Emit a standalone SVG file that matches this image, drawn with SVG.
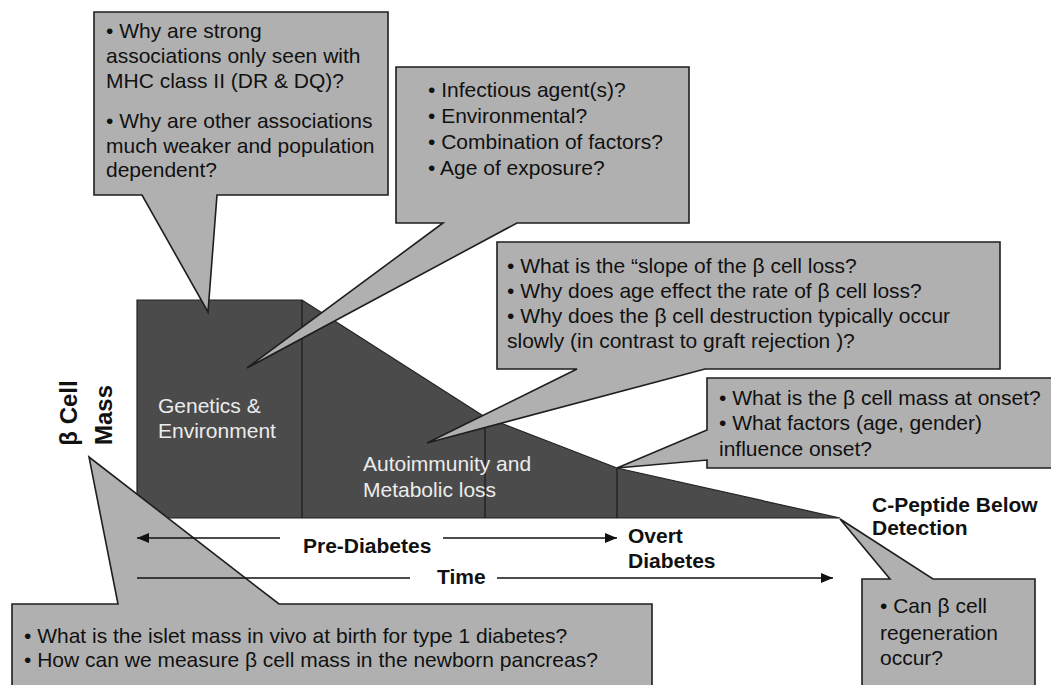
<svg xmlns="http://www.w3.org/2000/svg" width="1051" height="685" viewBox="0 0 1051 685">
<style>
.callout{fill:#b0b0b0;stroke:#1e1e1e;stroke-width:1.6;stroke-linejoin:miter}
.q{font-family:"Liberation Sans",Arial,sans-serif;font-size:21px;fill:#111}
.lbl{font-family:"Liberation Sans",Arial,sans-serif;font-size:21px;fill:#ececec}
.b{font-family:"Liberation Sans",Arial,sans-serif;font-size:21px;font-weight:bold;fill:#111}
.ax{font-family:"Liberation Sans",Arial,sans-serif;font-size:24px;font-weight:bold;fill:#111}
.ln{stroke:#111;stroke-width:1.6;fill:none}
.div{stroke:#1a1a1a;stroke-width:1.2}
</style>
<defs>
<marker id="ah" viewBox="0 0 12 10" refX="12" refY="5" markerWidth="12" markerHeight="10" markerUnits="userSpaceOnUse" orient="auto-start-reverse">
<path d="M0,0 L12,5 L0,10 Z" fill="#111"/>
</marker>
</defs>
<rect width="1051" height="685" fill="#ffffff"/>

<g id="mass-curve">
<path d="M137,300 H302 L485,417 L617,468 L840,518 H137 Z" fill="#4b4b4b" stroke="#222" stroke-width="1.2"/>
<line class="div" x1="302" y1="300" x2="302" y2="518"/>
<line class="div" x1="485" y1="417" x2="485" y2="518"/>
<line class="div" x1="617" y1="468" x2="617" y2="518"/>
<text class="lbl" x="158" y="413">Genetics &amp;</text>
<text class="lbl" x="158" y="438">Environment</text>
<text class="lbl" x="363" y="471">Autoimmunity and</text>
<text class="lbl" x="363" y="497">Metabolic loss</text>
</g>

<g id="callout-genetics">
<path class="callout" d="M94,12 H388 V195 H217 L208,312 L142,195 H94 Z"/>
<text class="q" x="106" y="38">• Why are strong</text>
<text class="q" x="106" y="63">associations only seen with</text>
<text class="q" x="106" y="88">MHC class II (DR &amp; DQ)?</text>
<text class="q" x="106" y="128">• Why are other associations</text>
<text class="q" x="106" y="153">much weaker and population</text>
<text class="q" x="106" y="177">dependent?</text>
</g>

<g id="callout-environment">
<path class="callout" d="M396,67 H689 V223 H517 L247,368 L443,223 H396 Z"/>
<text class="q" x="428" y="97">• Infectious agent(s)?</text>
<text class="q" x="428" y="123">• Environmental?</text>
<text class="q" x="428" y="149">• Combination of factors?</text>
<text class="q" x="428" y="175">• Age of exposure?</text>
</g>

<g id="callout-slope">
<path class="callout" d="M497,242 H1000 V369 H705 L427,443 L577,369 H497 Z"/>
<text class="q" x="507" y="273">• What is the “slope of the β cell loss?</text>
<text class="q" x="507" y="298">• Why does age effect the rate of β cell loss?</text>
<text class="q" x="507" y="323">• Why does the β cell destruction typically occur</text>
<text class="q" x="507" y="348">slowly (in contrast to graft rejection )?</text>
</g>

<g id="callout-onset">
<path class="callout" d="M707,378 H1056 V468 H707 V460 L617,468 L707,430 Z"/>
<text class="q" x="719" y="405">• What is the β cell mass at onset?</text>
<text class="q" x="719" y="430">• What factors (age, gender)</text>
<text class="q" x="719" y="456">influence onset?</text>
</g>

<g id="callout-regeneration">
<path class="callout" d="M862,579 H890 L840,519 L933,579 H1035 V692 H862 Z"/>
<text class="q" x="880" y="613">• Can β cell</text>
<text class="q" x="880" y="640">regeneration</text>
<text class="q" x="880" y="665">occur?</text>
</g>

<g id="callout-birth">
<path class="callout" d="M12,604 H118 L89,457 L279,604 H652 V692 H12 Z"/>
<text class="q" x="24" y="643">• What is the islet mass in vivo at birth for type 1 diabetes?</text>
<text class="q" x="24" y="667">• How can we measure β cell mass in the newborn pancreas?</text>
</g>

<g id="axis-label">
<text class="ax" transform="translate(77,413) rotate(-90)" text-anchor="middle">β Cell</text>
<text class="ax" transform="translate(112,415) rotate(-90)" text-anchor="middle">Mass</text>
</g>

<g id="connectors">
<line class="ln" x1="280" y1="538" x2="137" y2="538" marker-end="url(#ah)"/>
<line class="ln" x1="443" y1="538" x2="617" y2="538" marker-end="url(#ah)"/>
<line class="ln" x1="137" y1="578" x2="410" y2="578"/>
<line class="ln" x1="497" y1="578" x2="833" y2="578" marker-end="url(#ah)"/>
</g>

<g id="timeline-labels">
<text class="b" x="303" y="553">Pre-Diabetes</text>
<text class="b" x="437" y="584">Time</text>
<text class="b" x="628" y="543">Overt</text>
<text class="b" x="628" y="568">Diabetes</text>
<text class="b" x="872" y="512">C-Peptide Below</text>
<text class="b" x="872" y="535">Detection</text>
</g>
</svg>
